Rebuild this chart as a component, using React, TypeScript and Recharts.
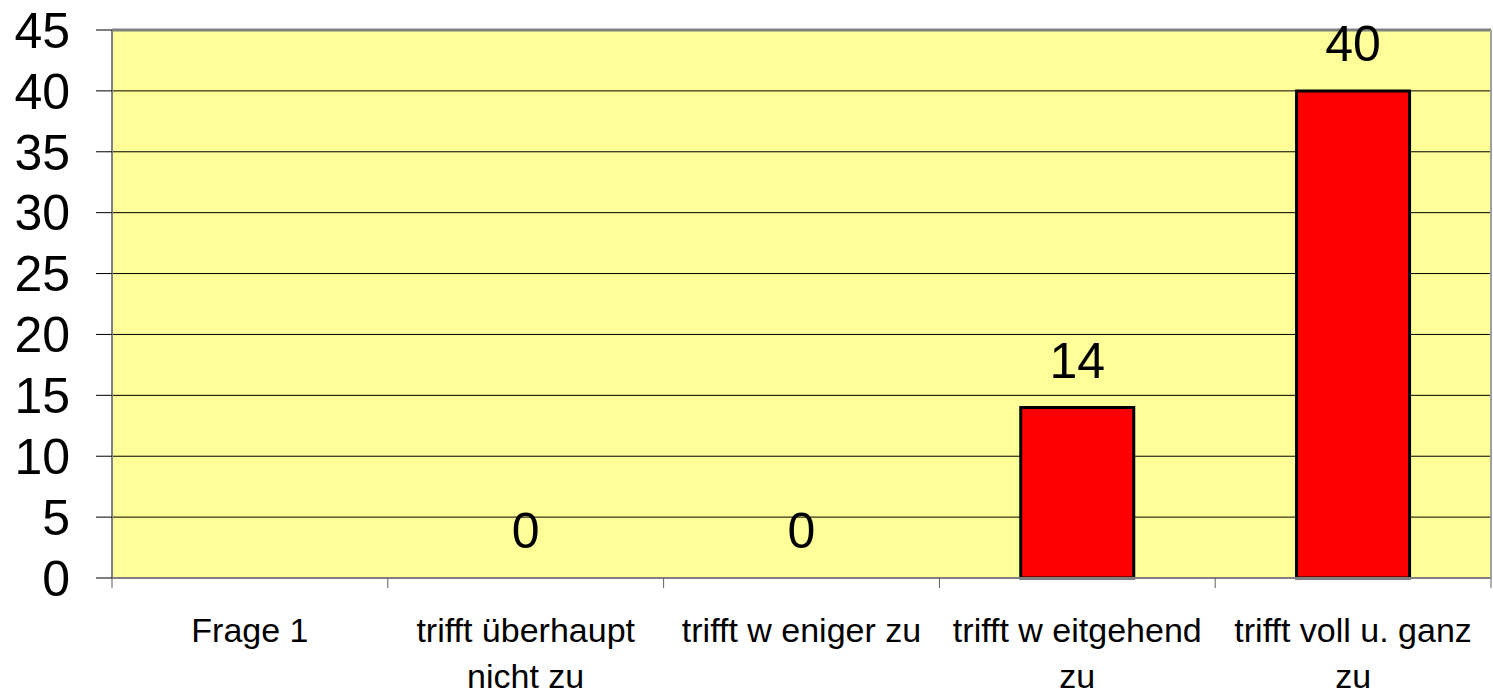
import React from "react";
import {
  ComposedChart,
  Bar,
  Line,
  XAxis,
  YAxis,
  CartesianGrid,
  LabelList,
  ReferenceLine
} from "recharts";

// categories and counts
const categories = [
  "Frage 1",
  "trifft überhaupt\nnicht zu",
  "trifft w eniger zu",
  "trifft w eitgehend\nzu",
  "trifft voll u. ganz\nzu"
];
const counts: (number | null)[] = [null, 0, 0, 14, 40];
const yTicks = [0, 5, 10, 15, 20, 25, 30, 35, 40, 45];
const boundaryTicks = [0, 1, 2, 3, 4, 5];

const data = categories.map((name, i) => ({
  name,
  idx: i + 0.5,
  value: counts[i]
}));

const FONT = "'Liberation Sans', Arial, sans-serif";

function CategoryTick(props: any) {
  const { x, y, payload } = props;
  const lines = String(payload.value).split("\n");
  return (
    <g>
      {lines.map((line, i) => (
        <text
          key={i}
          x={x}
          y={y + 54 + i * 46}
          textAnchor="middle"
          fontSize={34}
          fontFamily={FONT}
          fill="#000"
        >
          {line}
        </text>
      ))}
    </g>
  );
}

export default function App() {
  return (
    <div style={{ width: 1493, height: 694 }}>
      <style>{`body{margin:0}`}</style>
      <ComposedChart
        width={1493}
        height={694}
        data={data}
        margin={{ top: 30, right: 0, bottom: 0, left: 0 }}
        barCategoryGap="29.5%"
      >
        <CartesianGrid
          xAxisId="cat"
          yAxisId="left"
          vertical={false}
          stroke="#000"
          strokeWidth={1}
          fill="#FFFF99"
          fillOpacity={1}
        />
        {/* category boundaries, like the old spreadsheet axis */}
        <XAxis
          xAxisId="bound"
          type="number"
          dataKey="idx"
          domain={[0, 5]}
          ticks={boundaryTicks}
          interval={0}
          height={10}
          tickFormatter={() => ""}
          tickSize={10}
          axisLine={{ stroke: "#808080", strokeWidth: 2 }}
          tickLine={{ stroke: "#606060", strokeWidth: 1 }}
          allowDataOverflow
        />
        <XAxis
          xAxisId="cat"
          dataKey="name"
          height={106}
          axisLine={false}
          tickLine={false}
          tickSize={0}
          tickMargin={0}
          interval={0}
          tick={<CategoryTick />}
        />
        <YAxis
          yAxisId="left"
          width={112}
          domain={[0, 45]}
          ticks={yTicks}
          interval={0}
          tickSize={16}
          tickMargin={26}
          axisLine={{ stroke: "#808080", strokeWidth: 2 }}
          tickLine={{ stroke: "#000", strokeWidth: 1 }}
          tick={{ fontSize: 50, fontFamily: FONT, fill: "#000" }}
        />
        <YAxis
          yAxisId="right"
          orientation="right"
          width={2}
          domain={[0, 45]}
          tick={false}
          tickLine={false}
          axisLine={{ stroke: "#a0a0a0", strokeWidth: 2 }}
        />
        <ReferenceLine
          yAxisId="left"
          xAxisId="cat"
          y={45}
          stroke="#808080"
          strokeWidth={3}
        />
        <Bar
          dataKey="value"
          xAxisId="cat"
          yAxisId="left"
          fill="#FF0000"
          stroke="#000"
          strokeWidth={3}
          isAnimationActive={false}
        />
        {/* invisible series that carries the value labels, so zeros show too */}
        <Line
          dataKey="value"
          xAxisId="cat"
          yAxisId="left"
          stroke="none"
          dot={false}
          activeDot={false}
          isAnimationActive={false}
        >
          <LabelList
            dataKey="value"
            position="top"
            offset={30}
            fontSize={50}
            fontFamily={FONT}
            fill="#000"
          />
        </Line>
      </ComposedChart>
    </div>
  );
}
